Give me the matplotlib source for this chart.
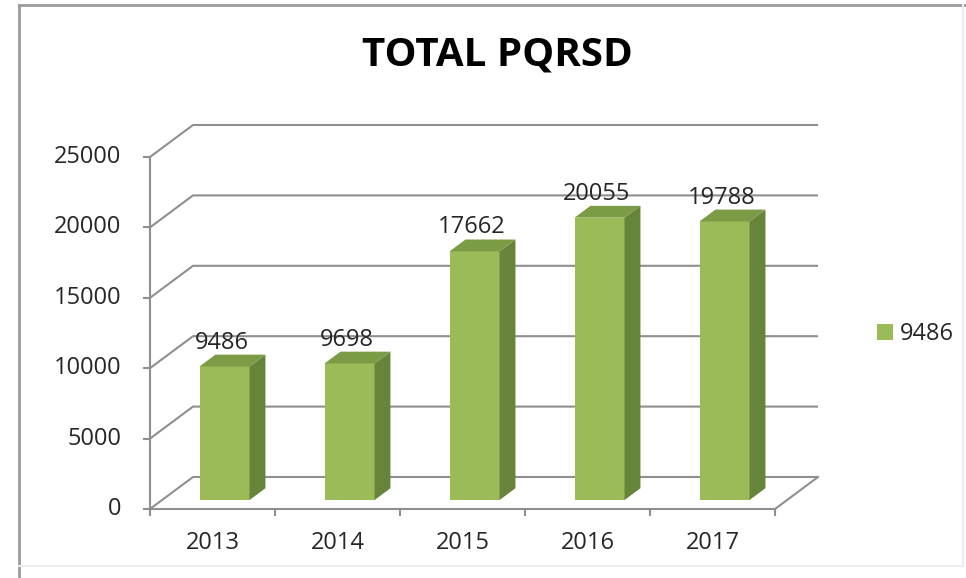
import matplotlib.pyplot as plt
from matplotlib.patches import Polygon, Rectangle, Patch
from matplotlib.lines import Line2D

years = ['2013', '2014', '2015', '2016', '2017']
totals = [9486, 9698, 17662, 20055, 19788]
y_ticks = [0, 5000, 10000, 15000, 20000, 25000]
legend_label = '9486'

plt.rcParams['font.family'] = ['Open Sans', 'DejaVu Sans']

FRONT = '#9BBB59'
TOP = '#7B9B44'
SIDE = '#67853A'
GRID = '#8f8f8f'
TXT = '#262626'

fig = plt.figure(figsize=(9.66, 5.78), dpi=100)
W, H = 966, 578
# front plane of the 3d box
ax = fig.add_axes([150 / W, (H - 509) / H, 625 / W, 352 / H])
ax.set_xlim(0, len(years))
ax.set_ylim(0, 25000)
ax.axis('off')

# depth of the box in data units
DX = 43 / 125
DY = 32 / 352 * 25000
n = len(years)

# walls: gridlines go from front-left edge to back wall
for v in y_ticks:
    ax.plot([0, DX, n + DX], [v, v + DY, v + DY], color=GRID, lw=1.5,
            clip_on=False, zorder=1, solid_capstyle='butt')
    ax.plot([-0.045, 0], [v, v], color=GRID, lw=1.5, clip_on=False, zorder=1)
    ax.text(-0.23, v, str(v), ha='right', va='center', fontsize=17,
            color=TXT, clip_on=False)

# floor and axis lines
ax.plot([0, 0], [0, 25000], color=GRID, lw=1.5, clip_on=False, zorder=1)
ax.plot([0, n, n + DX], [0, 0, DY], color=GRID, lw=1.5, clip_on=False, zorder=1)
for i in range(n + 1):
    ax.plot([i, i], [0, -430], color=GRID, lw=1.5, clip_on=False, zorder=1)

# bars
d0 = 0.28
dd = 0.37
bw = 0.4
for i, (yr, v) in enumerate(zip(years, totals)):
    x0 = i + 0.5 - bw / 2 + d0 * DX
    y0 = d0 * DY
    ddx, ddy = dd * DX, dd * DY
    ax.add_patch(Rectangle((x0, y0), bw, v, facecolor=FRONT, edgecolor='none',
                           clip_on=False, zorder=3))
    ax.add_patch(Polygon([(x0 + bw, y0), (x0 + bw + ddx, y0 + ddy),
                          (x0 + bw + ddx, y0 + v + ddy), (x0 + bw, y0 + v)],
                         facecolor=SIDE, edgecolor='none', clip_on=False, zorder=3))
    ax.add_patch(Polygon([(x0, y0 + v), (x0 + bw, y0 + v),
                          (x0 + bw + ddx, y0 + v + ddy), (x0 + ddx, y0 + v + ddy)],
                         facecolor=TOP, edgecolor='none', clip_on=False, zorder=3))
    ax.text(x0 + bw / 2 - 0.025, y0 + v + ddy + 430, f'{v}', ha='center',
            va='baseline', fontsize=17, color=TXT, clip_on=False, zorder=4)
    ax.text(i + 0.5, -2415, yr, ha='center', va='center', fontsize=17,
            color=TXT, clip_on=False)

fig.text(497 / W, 1 - 55 / H, 'TOTAL PQRSD', ha='center', va='center',
         fontsize=29, fontweight='bold', color='black')

fig.legend(handles=[Patch(facecolor=FRONT, edgecolor='none')],
           labels=[legend_label], loc='center left',
           bbox_to_anchor=(856 / W, 1 - 334 / H), frameon=False, fontsize=17,
           handlelength=0.65, handleheight=0.65, handletextpad=0.3,
           labelcolor=TXT)

# chart border
fig.add_artist(Line2D([19 / W, 1], [1 - 5 / H, 1 - 5 / H], color='#9a9a9a', lw=2))
fig.add_artist(Line2D([19 / W, 19 / W], [0, 1 - 5 / H], color='#9a9a9a', lw=2))
fig.add_artist(Line2D([19 / W, 963 / W], [12 / H, 12 / H], color='#ececec', lw=1.5))
fig.add_artist(Line2D([963 / W, 963 / W], [12 / H, 1 - 5 / H], color='#ececec', lw=1.5))

fig.savefig('out.png', dpi=100)
